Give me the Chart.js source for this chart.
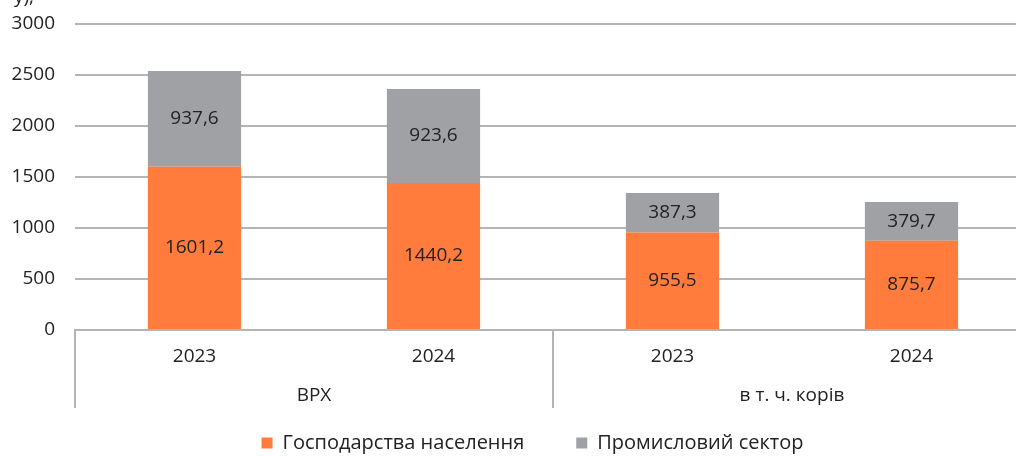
<!DOCTYPE html>
<html lang="uk">
<head>
    <meta charset="UTF-8">
    <title>ВРХ та корови</title>
    <style>
        html, body { margin: 0; padding: 0; background: #fff; overflow: hidden; }
        .chart-box { position: relative; width: 1040px; height: 456px; }
    </style>
    <script src="https://cdn.jsdelivr.net/npm/chart.js"></script>
</head>
<body>
    <div class="chart-box">
        <canvas id="stockChart"></canvas>
    </div>

    <script>
        const years = ['2023', '2024', '2023', '2024'];
        const groups = ['ВРХ', 'в т. ч. корів'];
        const households = [1601.2, 1440.2, 955.5, 875.7];
        const industrial = [937.6, 923.6, 387.3, 379.7];
        const seriesNames = ['Господарства населення', 'Промисловий сектор'];
        const yTicks = [0, 500, 1000, 1500, 2000, 2500, 3000];

        const FONT = '"Open Sans", "Noto Sans", sans-serif';
        const TEXT = '#222222';
        const LINE = '#b4b4b4';

        const fmt = v => v.toFixed(1).replace('.', ',');

        // values inside the bar segments
        const segmentLabels = {
            id: 'segmentLabels',
            afterDatasetsDraw(chart) {
                const ctx = chart.ctx;
                ctx.save();
                ctx.font = '19px ' + FONT;
                ctx.fillStyle = TEXT;
                ctx.textAlign = 'center';
                ctx.textBaseline = 'middle';
                chart.data.datasets.forEach((ds, i) => {
                    chart.getDatasetMeta(i).data.forEach((bar, j) => {
                        ctx.fillText(fmt(ds.data[j]), bar.x, (bar.y + bar.base) / 2);
                    });
                });
                ctx.restore();
            }
        };

        // second level of the x axis: group names and separators
        const groupAxis = {
            id: 'groupAxis',
            afterLayout(chart) {
                // legend sits a little right of the canvas centre in the original
                chart.legend.left += 17;
                chart.legend.right += 17;
            },
            afterDraw(chart) {
                const ctx = chart.ctx;
                const x = chart.scales.x;
                const top = chart.chartArea.bottom;
                const step = x.getPixelForValue(1) - x.getPixelForValue(0);
                ctx.save();
                ctx.strokeStyle = LINE;
                ctx.lineWidth = 2;
                [0, 2, 4].forEach(i => {
                    const px = Math.round(x.getPixelForValue(i) - step / 2);
                    ctx.beginPath();
                    ctx.moveTo(px, top);
                    ctx.lineTo(px, top + 78);
                    ctx.stroke();
                });
                ctx.font = '19px ' + FONT;
                ctx.fillStyle = TEXT;
                ctx.textAlign = 'center';
                ctx.textBaseline = 'middle';
                groups.forEach((g, k) => {
                    const cx = (x.getPixelForValue(2 * k) + x.getPixelForValue(2 * k + 1)) / 2;
                    ctx.fillText(g, cx, top + 66);
                });
                // remains of the caption cut off above the picture
                ctx.textAlign = 'left';
                ctx.textBaseline = 'alphabetic';
                ctx.fillText('у),', 14, 3);
                ctx.restore();
            }
        };

        const ctx = document.getElementById('stockChart').getContext('2d');
        new Chart(ctx, {
            type: 'bar',
            data: {
                labels: years,
                datasets: [
                    { label: seriesNames[0], data: households, backgroundColor: '#ff7c3c' },
                    { label: seriesNames[1], data: industrial, backgroundColor: '#a0a1a5' }
                ]
            },
            options: {
                responsive: true,
                maintainAspectRatio: false,
                animation: false,
                barPercentage: 0.39,
                categoryPercentage: 1,
                layout: { padding: { top: 24, left: 0, right: 9, bottom: 2 } },
                plugins: {
                    tooltip: { enabled: false },
                    legend: {
                        position: 'bottom',
                        maxHeight: 73,
                        labels: {
                            boxWidth: 11,
                            boxHeight: 11,
                            padding: 52,
                            color: TEXT,
                            font: { family: FONT, size: 20 }
                        }
                    }
                },
                scales: {
                    x: {
                        stacked: true,
                        grid: { display: false },
                        border: { display: true, color: LINE, width: 2 },
                        ticks: { color: TEXT, padding: 7, font: { family: FONT, size: 19 } },
                        afterFit(scale) { scale.height = 51; }
                    },
                    y: {
                        stacked: true,
                        min: 0,
                        max: 3000,
                        afterBuildTicks(scale) { scale.ticks = yTicks.map(v => ({ value: v })); },
                        grid: { color: LINE, lineWidth: 2, drawTicks: true, tickLength: 20, tickColor: 'rgba(0,0,0,0)' },
                        border: { display: false },
                        ticks: {
                            color: TEXT,
                            padding: 0,
                            font: { family: FONT, size: 19 },
                            callback: v => String(v)
                        },
                        afterFit(scale) { scale.width = 75; }
                    }
                }
            },
            plugins: [segmentLabels, groupAxis]
        });
    </script>
</body>
</html>
